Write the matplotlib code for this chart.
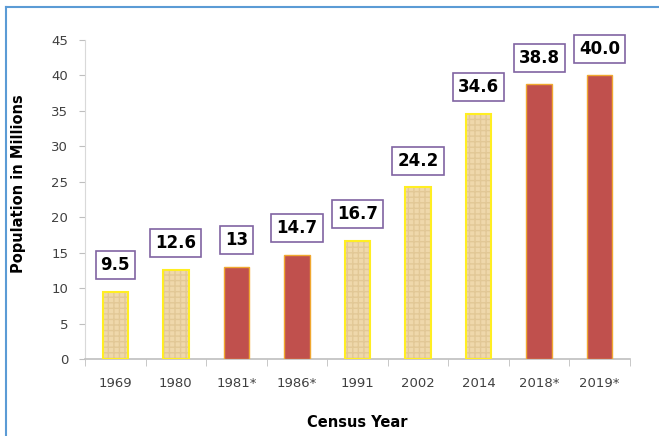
import matplotlib.pyplot as plt
from matplotlib.lines import Line2D
import numpy as np

years = ["1969", "1980", "1981*", "1986*", "1991", "2002", "2014", "2018*", "2019*"]
population = [9.5, 12.6, 13, 14.7, 16.7, 24.2, 34.6, 38.8, 40.0]
labels = ["9.5", "12.6", "13", "14.7", "16.7", "24.2", "34.6", "38.8", "40.0"]
estimate = [False, False, True, True, False, False, False, True, True]

fig = plt.figure(figsize=(6.59, 4.36), dpi=100)
ax = fig.add_axes([85 / 659, 77 / 436, 545 / 659, 319 / 436])

x = np.arange(len(years))
census_x = [i for i in x if not estimate[i]]
census_v = [population[i] for i in x if not estimate[i]]
est_x = [i for i in x if estimate[i]]
est_v = [population[i] for i in x if estimate[i]]

# textured census bars: fill + hatch, then yellow outline
ax.bar(census_x, census_v, width=0.42, color="#efd8ab", edgecolor="#e2c896",
       hatch="+++", linewidth=0, zorder=2)
ax.bar(census_x, census_v, width=0.42, fill=False, edgecolor="#ffee22",
       linewidth=1.5, zorder=3)
ax.bar(est_x, est_v, width=0.42, color="#c0504d", edgecolor="#f0a830",
       linewidth=1.0, zorder=3)

for i, v in enumerate(population):
    ax.annotate(labels[i], (i, v), xytext=(0, 19), textcoords="offset points",
                ha="center", va="center", fontsize=12, fontweight="bold",
                bbox=dict(boxstyle="square,pad=0.3", fc="white", ec="#8064a2", lw=1.2),
                zorder=5)

ax.set_xlim(-0.5, len(years) - 0.5)
ax.set_ylim(0, 45)
ax.set_yticks(range(0, 46, 5))
ax.set_xticks(x)
ax.set_xticklabels(years)
ax.set_xticks(np.arange(-0.5, len(years), 1), minor=True)
ax.tick_params(axis="x", which="major", length=0, pad=13, labelsize=9.5, labelcolor="#404040")
ax.tick_params(axis="x", which="minor", length=5, color="#bfbfbf", direction="out")
ax.tick_params(axis="y", length=4, color="#bfbfbf", labelsize=9.5, labelcolor="#404040", pad=8)

for s in ["top", "right"]:
    ax.spines[s].set_visible(False)
ax.spines["left"].set_color("#d9d9d9")
ax.spines["bottom"].set_color("#bfbfbf")
ax.spines["bottom"].set_linewidth(1.2)

ax.set_ylabel("Population in Millions", fontsize=10.5, fontweight="bold")
ax.yaxis.set_label_coords(-0.108, 0.55)
ax.set_xlabel("Census Year", fontsize=10.5, fontweight="bold", labelpad=18)

# blue frame of the slide
fig.add_artist(Line2D([6 / 659, 6 / 659], [0, 1 - 7 / 436], color="#5b9bd5", lw=1.5))
fig.add_artist(Line2D([6 / 659, 1], [1 - 7 / 436, 1 - 7 / 436], color="#5b9bd5", lw=1.5))

fig.savefig("out.png", dpi=100)
